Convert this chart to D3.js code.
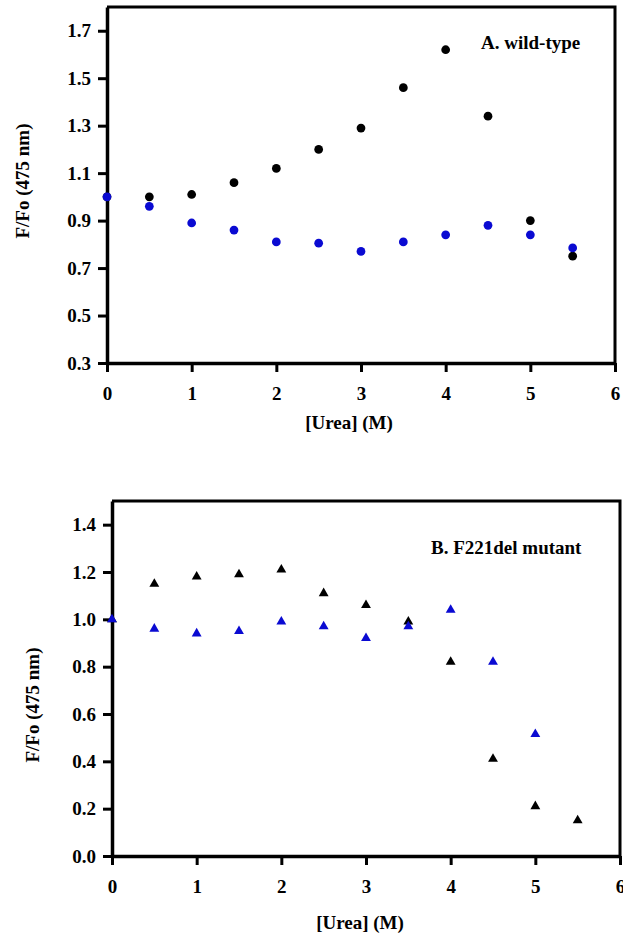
<!DOCTYPE html>
<html>
<head>
<meta charset="utf-8">
<script src="https://cdn.jsdelivr.net/npm/d3@7"></script>
<style>
  body { margin: 0; background: #fff; }
  svg text { font-family: "Liberation Serif", "Times New Roman", serif; font-weight: bold; }
</style>
</head>
<body>
<div id="mainContainer"></div>
<script>
// urea concentrations (M)
const urea = [0, 0.5, 1, 1.5, 2, 2.5, 3, 3.5, 4, 4.5, 5, 5.5];

// panel A, wild-type
const wtBlack = [1.00, 1.00, 1.01, 1.06, 1.12, 1.20, 1.29, 1.46, 1.62, 1.34, 0.90, 0.75];
const wtBlue = [1.00, 0.96, 0.89, 0.86, 0.81, 0.805, 0.77, 0.81, 0.84, 0.88, 0.84, 0.785];

// panel B, F221del mutant
const mutBlack = [1.00, 1.15, 1.18, 1.19, 1.21, 1.11, 1.06, 0.99, 0.82, 0.41, 0.21, 0.15];
const mutBlue = [1.00, 0.96, 0.94, 0.95, 0.99, 0.97, 0.92, 0.97, 1.04, 0.82, 0.515, null];

const xTicks = [0, 1, 2, 3, 4, 5, 6];
const yTicksA = [0.3, 0.5, 0.7, 0.9, 1.1, 1.3, 1.5, 1.7];
const yTicksB = [0, 0.2, 0.4, 0.6, 0.8, 1.0, 1.2, 1.4];

const width = 623;
const height = 934;
const blue = '#0a0ad2';

const svg = d3.select('#mainContainer')
  .append('svg')
  .attr('width', width)
  .attr('height', height);

function panel(cfg) {
  const x = d3.scaleLinear().domain([0, 6]).range([cfg.left, cfg.right]);
  const y = d3.scaleLinear().domain(cfg.yDomain).range([cfg.bottom, cfg.top]);
  const g = svg.append('g');

  // frame (top + right)
  g.append('path')
    .attr('d', `M${cfg.left},${cfg.top}H${cfg.right}V${cfg.bottom}`)
    .attr('fill', 'none')
    .attr('stroke', '#000')
    .attr('stroke-width', 3);

  // x axis
  const xa = g.append('g')
    .attr('transform', `translate(0,${cfg.bottom})`)
    .call(d3.axisBottom(x).tickValues(xTicks).tickFormat(d3.format('d')).tickSize(9).tickPadding(15).tickSizeOuter(0));
  // y axis
  const ya = g.append('g')
    .attr('transform', `translate(${cfg.left},0)`)
    .call(d3.axisLeft(y).tickValues(cfg.yTicks).tickFormat(d3.format('.1f')).tickSize(9).tickPadding(7).tickSizeOuter(0));

  [xa, ya].forEach(a => {
    a.select('.domain').attr('stroke-width', 3.5);
    a.selectAll('.tick line').attr('stroke-width', 3);
    a.selectAll('.tick text').attr('font-size', '19px').attr('fill', '#000');
  });

  const sym = d3.symbol().type(cfg.shape).size(cfg.size);
  [[cfg.black, '#000'], [cfg.blue, blue]].forEach(([vals, col]) => {
    g.append('g')
      .attr('fill', col)
      .selectAll('path')
      .data(urea.map((u, i) => ({ u, v: vals[i] })).filter(d => d.v != null))
      .join('path')
      .attr('d', sym)
      .attr('transform', d => `translate(${x(d.u)},${y(d.v)})`);
  });

  g.append('text')
    .attr('x', cfg.labelX).attr('y', cfg.labelY)
    .attr('font-size', '19px')
    .text(cfg.label);

  g.append('text')
    .attr('x', cfg.xTitleX).attr('y', cfg.xTitleY)
    .attr('text-anchor', 'middle')
    .attr('font-size', '19px')
    .text('[Urea] (M)');

  g.append('text')
    .attr('transform', `translate(${cfg.yTitleX},${cfg.yTitleY}) rotate(-90)`)
    .attr('text-anchor', 'middle')
    .attr('font-size', '19px')
    .text('F/Fo (475 nm)');
}

panel({
  left: 107, right: 615, top: 7, bottom: 363,
  yDomain: [0.3, 1.8], yTicks: yTicksA,
  black: wtBlack, blue: wtBlue,
  shape: d3.symbolCircle, size: 60,
  label: 'A. wild-type', labelX: 481, labelY: 49,
  xTitleX: 349, xTitleY: 429,
  yTitleX: 29, yTitleY: 181
});

panel({
  left: 112, right: 620, top: 501, bottom: 856,
  yDomain: [0, 1.5], yTicks: yTicksB,
  black: mutBlack, blue: mutBlue,
  shape: d3.symbolTriangle, size: 42,
  label: 'B. F221del mutant', labelX: 431, labelY: 554,
  xTitleX: 360, xTitleY: 929,
  yTitleX: 39, yTitleY: 705
});
</script>
</body>
</html>
